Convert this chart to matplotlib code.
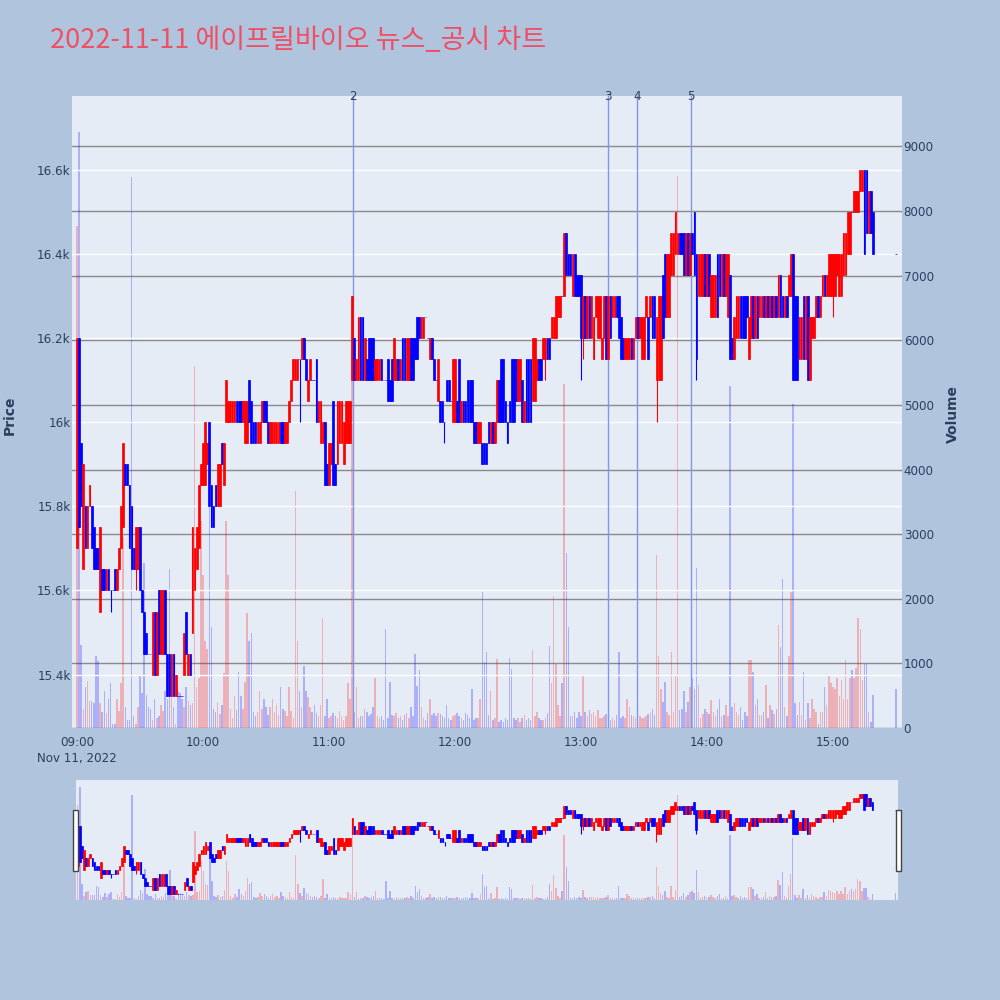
import numpy as np
import pandas as pd
import matplotlib
matplotlib.use("Agg")
import matplotlib.pyplot as plt
from matplotlib.patches import Rectangle

# 1분봉 (09:00 ~ 15:19, 15:30 종가)
times = list(pd.date_range("2022-11-11 09:00", "2022-11-11 15:19", freq="min")) + [pd.Timestamp("2022-11-11 15:30")]

opens = [
    15700, 16200, 15950, 15650, 15800, 15700, 15800, 15800, 15750, 15700,
    15700, 15550, 15650, 15650, 15600, 15650, 15600, 15600, 15650, 15600,
    15650, 15700, 15750, 15900, 15900, 15850, 15800, 15700, 15650, 15650,
    15750, 15600, 15550, 15500, 15450, 15450, 15400, 15550, 15400, 15600,
    15450, 15450, 15600, 15450, 15450, 15350, 15450, 15350, 15350, 15350,
    15350, 15400, 15550, 15400, 15450, 15500, 15600, 15650, 15700, 15850,
    15850, 15850, 15900, 16000, 15850, 15800, 15850, 15800, 15800, 15950,
    15850, 16000, 16000, 16000, 16000, 16000, 16050, 16050, 16050, 16000,
    15950, 15950, 16100, 16050, 16000, 16000, 15950, 15950, 16000, 16050,
    16050, 16000, 15950, 15950, 15950, 15950, 15950, 16000, 16000, 15950,
    15950, 16000, 16050, 16100, 16100, 16100, 16150, 16150, 16200, 16150,
    16050, 16100, 16100, 16100, 16150, 16000, 15950, 15950, 16000, 15900,
    15850, 15900, 16050, 15900, 15900, 15950, 15950, 15900, 15950, 15950,
    15950, 16100, 16200, 16100, 16100, 16250, 16250, 16100, 16150, 16200,
    16200, 16200, 16100, 16100, 16100, 16150, 16100, 16100, 16150, 16100,
    16150, 16100, 16100, 16150, 16100, 16200, 16200, 16100, 16100, 16200,
    16200, 16200, 16250, 16250, 16200, 16200, 16250, 16200, 16150, 16200,
    16150, 16100, 16050, 16050, 16050, 16000, 16100, 16100, 16050, 16000,
    16000, 16050, 16150, 16000, 16050, 16050, 16100, 16100, 16100, 16000,
    16000, 15950, 15950, 15950, 15950, 15950, 16000, 15950, 16000, 15950,
    16000, 16100, 16150, 16150, 16050, 16000, 16050, 16150, 16150, 16150,
    16050, 16050, 16100, 16000, 16150, 16150, 16150, 16050, 16050, 16100,
    16150, 16150, 16150, 16150, 16200, 16200, 16200, 16200, 16200, 16250,
    16250, 16300, 16300, 16450, 16400, 16400, 16300, 16400, 16350, 16350,
    16350, 16200, 16300, 16200, 16300, 16200, 16150, 16250, 16200, 16200,
    16150, 16200, 16300, 16150, 16300, 16250, 16250, 16300, 16300, 16250,
    16200, 16150, 16150, 16150, 16200, 16150, 16200, 16250, 16200, 16150,
    16150, 16250, 16250, 16250, 16300, 16300, 16100, 16100, 16100, 16350,
    16400, 16250, 16250, 16350, 16350, 16400, 16400, 16450, 16450, 16450,
    16350, 16450, 16350, 16450, 16500, 16400, 16300, 16300, 16300, 16400,
    16300, 16400, 16250, 16250, 16250, 16400, 16400, 16300, 16400, 16300,
    16250, 16350, 16200, 16150, 16200, 16200, 16300, 16300, 16300, 16300,
    16150, 16200, 16300, 16200, 16300, 16250, 16250, 16300, 16250, 16300,
    16250, 16300, 16250, 16300, 16250, 16350, 16300, 16250, 16300, 16300,
    16300, 16400, 16300, 16300, 16150, 16150, 16300, 16150, 16300, 16100,
    16200, 16200, 16250, 16300, 16250, 16300, 16350, 16300, 16300, 16300,
    16300, 16300, 16350, 16300, 16300, 16350, 16350, 16400, 16400, 16500,
    16500, 16500, 16500, 16550, 16550, 16600, 16600, 16450, 16550, 16500,
    16400,
]

closes = [
    16200, 15750, 15800, 15900, 15700, 15800, 15850, 15700, 15650, 15650,
    15650, 15750, 15600, 15600, 15650, 15600, 15600, 15600, 15600, 15650,
    15700, 15800, 15950, 15850, 15850, 15700, 15650, 15650, 15750, 15750,
    15600, 15550, 15450, 15450, 15450, 15450, 15550, 15400, 15550, 15450,
    15600, 15600, 15450, 15350, 15350, 15450, 15350, 15400, 15350, 15350,
    15350, 15500, 15450, 15450, 15400, 15750, 15700, 15750, 15850, 15900,
    15950, 16000, 15950, 15800, 15750, 15750, 15800, 15900, 15900, 15900,
    15950, 16100, 16050, 16050, 16050, 16050, 16000, 16000, 16000, 16050,
    16050, 16050, 16000, 15950, 15950, 15950, 16000, 16000, 16050, 16000,
    16000, 15950, 16000, 16000, 16000, 16000, 16000, 15950, 15950, 16000,
    16000, 16050, 16100, 16150, 16150, 16150, 16150, 16200, 16150, 16100,
    16100, 16150, 16100, 16100, 16000, 16050, 16050, 16000, 15850, 15850,
    15950, 15950, 15850, 15850, 16050, 16050, 16050, 16000, 16050, 16050,
    16050, 16300, 16100, 16150, 16250, 16100, 16100, 16200, 16100, 16100,
    16100, 16100, 16150, 16150, 16150, 16100, 16100, 16100, 16050, 16050,
    16050, 16200, 16150, 16100, 16150, 16100, 16100, 16200, 16200, 16100,
    16100, 16150, 16150, 16200, 16250, 16250, 16250, 16200, 16200, 16150,
    16100, 16100, 16150, 16000, 16000, 16000, 16050, 16050, 16050, 16150,
    16150, 16000, 16000, 16050, 16000, 16000, 16000, 16000, 16000, 15950,
    15950, 16000, 16000, 15900, 15900, 15900, 15950, 16000, 15950, 16000,
    16100, 16000, 16000, 16000, 16000, 15950, 16000, 16000, 16000, 16050,
    16150, 16150, 16000, 16050, 16000, 16000, 16000, 16200, 16200, 16150,
    16100, 16100, 16200, 16200, 16150, 16150, 16250, 16250, 16300, 16300,
    16300, 16300, 16450, 16350, 16350, 16350, 16400, 16300, 16300, 16300,
    16200, 16300, 16200, 16300, 16200, 16300, 16250, 16300, 16300, 16300,
    16200, 16300, 16150, 16300, 16200, 16300, 16300, 16250, 16200, 16150,
    16150, 16200, 16200, 16200, 16150, 16200, 16250, 16200, 16250, 16250,
    16250, 16300, 16150, 16300, 16200, 16200, 16250, 16300, 16300, 16200,
    16250, 16400, 16400, 16450, 16450, 16500, 16450, 16400, 16400, 16350,
    16450, 16350, 16450, 16400, 16350, 16150, 16400, 16400, 16400, 16300,
    16400, 16300, 16350, 16350, 16350, 16250, 16300, 16400, 16300, 16400,
    16400, 16150, 16150, 16250, 16300, 16300, 16200, 16200, 16200, 16250,
    16250, 16300, 16200, 16300, 16200, 16300, 16300, 16250, 16300, 16250,
    16300, 16250, 16300, 16250, 16350, 16250, 16250, 16300, 16250, 16350,
    16400, 16100, 16100, 16100, 16250, 16250, 16150, 16300, 16100, 16250,
    16250, 16250, 16300, 16250, 16300, 16350, 16300, 16350, 16400, 16400,
    16400, 16400, 16400, 16400, 16400, 16450, 16450, 16500, 16500, 16500,
    16550, 16550, 16550, 16600, 16600, 16400, 16450, 16550, 16450, 16400,
    16400,
]

# 몸통 밖으로 나온 아래꼬리 (인덱스: 저가)
low_wicks = {11: 15550, 16: 15550, 28: 15600, 106: 16000, 175: 15950, 223: 16100,
             240: 16100, 241: 16150, 276: 16000, 295: 16100, 360: 16250}

volumes = [
    7770, 9220, 1280, 290, 640, 735, 415, 415, 380, 1120,
    1040, 380, 250, 575, 225, 450, 690, 65, 65, 450,
    260, 690, 2950, 320, 130, 130, 8530, 190, 65, 320,
    800, 545, 2560, 510, 320, 290, 130, 450, 160, 190,
    350, 260, 575, 450, 2460, 510, 320, 65, 575, 545,
    450, 320, 640, 415, 350, 380, 5600, 640, 770, 3200,
    2370, 1340, 1215, 3500, 1570, 300, 250, 400, 220, 350,
    845, 3200, 2370, 300, 150, 500, 280, 865, 500, 300,
    705, 1780, 1340, 1470, 250, 180, 250, 575, 300, 450,
    320, 200, 320, 450, 250, 350, 200, 640, 300, 260,
    180, 640, 260, 160, 3660, 1340, 575, 320, 960, 575,
    480, 320, 250, 350, 225, 180, 350, 1700, 190, 450,
    150, 190, 225, 180, 160, 260, 190, 130, 190, 690,
    450, 5900, 250, 640, 160, 190, 190, 290, 250, 190,
    220, 320, 770, 190, 150, 190, 120, 1535, 160, 705,
    200, 190, 225, 150, 190, 130, 200, 225, 160, 320,
    180, 1140, 650, 895, 320, 150, 130, 225, 450, 200,
    225, 180, 225, 220, 190, 150, 350, 160, 130, 190,
    200, 225, 190, 160, 130, 225, 200, 160, 610, 130,
    160, 160, 450, 2110, 1020, 1180, 200, 575, 120, 150,
    1075, 100, 130, 100, 160, 120, 1090, 910, 150, 130,
    160, 100, 150, 200, 130, 160, 120, 1200, 190, 250,
    150, 130, 120, 160, 225, 1270, 700, 2035, 990, 350,
    190, 700, 5330, 2710, 1570, 190, 190, 250, 160, 250,
    180, 820, 250, 190, 280, 220, 250, 190, 280, 150,
    160, 190, 220, 400, 130, 160, 130, 200, 1180, 160,
    190, 150, 450, 320, 200, 190, 160, 130, 190, 160,
    150, 190, 220, 250, 290, 200, 2675, 1120, 600, 400,
    705, 250, 200, 1180, 250, 800, 8540, 280, 300, 575,
    250, 400, 640, 770, 600, 2475, 670, 160, 220, 300,
    250, 220, 430, 250, 190, 300, 450, 190, 200, 350,
    190, 5290, 320, 380, 250, 200, 320, 130, 250, 190,
    1055, 1055, 865, 350, 450, 200, 200, 250, 660, 160,
    350, 280, 220, 300, 1600, 1250, 2300, 320, 190, 1120,
    2110, 5020, 380, 200, 400, 200, 865, 130, 380, 160,
    450, 300, 250, 65, 250, 250, 640, 350, 800, 700,
    640, 600, 770, 500, 750, 450, 1055, 450, 770, 895,
    770, 930, 1700, 1535, 750, 990, 990, 250, 100, 510,
    610,
]

# 뉴스/공시 시점
event_times = ["2022-11-11 11:11:24", "2022-11-11 13:12:54", "2022-11-11 13:26:42", "2022-11-11 13:52:24"]
event_labels = ["2", "3", "4", "5"]

price_ticks = [15400, 15600, 15800, 16000, 16200, 16400, 16600]
price_labels = ["15.4k", "15.6k", "15.8k", "16k", "16.2k", "16.4k", "16.6k"]
volume_ticks = list(range(0, 10000, 1000))
hour_ticks = [0, 60, 120, 180, 240, 300, 360]
hour_labels = ["09:00\nNov 11, 2022", "10:00", "11:00", "12:00", "13:00", "14:00", "15:00"]

title = "2022-11-11 에이프릴바이오 뉴스_공시 차트"

PAPER = "#B0C4DE"
PLOT_BG = "#E5ECF6"
TXT = "#2a3f5f"

t0 = pd.Timestamp("2022-11-11 09:00")
x = np.array([(t - t0).total_seconds() / 60 for t in times])
o = np.array(opens, dtype=float)
c = np.array(closes, dtype=float)
hi = np.maximum(o, c)
lo = np.minimum(o, c)
for i, v in low_wicks.items():
    lo[i] = v
up = c > o
candle_col = np.where(up, "#FF0000", "#0000FF")
vol_col = [(1, 0, 0, 0.25) if u else (0, 0, 1, 0.25) for u in up]
ev_x = [(pd.Timestamp(t) - t0).total_seconds() / 60 for t in event_times]

PRICE_LIM = (15273, 16776)
VOL_LIM = (0, 9780)


def candles(ax):
    ax.vlines(x, lo, hi, colors=candle_col, lw=0.8, zorder=3)
    ax.bar(x, c - o, bottom=o, width=0.8, color=candle_col,
           edgecolor=candle_col, lw=0.5, zorder=3)


def no_frame(ax):
    for s in ax.spines.values():
        s.set_visible(False)
    ax.tick_params(length=0)


fig = plt.figure(figsize=(10, 10), dpi=100, facecolor=PAPER)

# 메인 차트: 거래량 (오른쪽 축)
main_rect = [0.072, 0.272, 0.830, 0.632]
axv = fig.add_axes(main_rect, facecolor=PLOT_BG)
axv.bar(x, volumes, width=0.7, color=vol_col, lw=0)
axv.set_ylim(*VOL_LIM)
axv.yaxis.tick_right()
axv.set_yticks(volume_ticks)
axv.set_yticklabels([str(v) for v in volume_ticks])
axv.grid(axis="y", color="#8a8a8a", lw=1)
axv.set_axisbelow(True)
axv.tick_params(axis="y", length=0, pad=1.2, labelsize=8.6, labelcolor=TXT)
axv.tick_params(axis="x", labelbottom=False, length=0)
no_frame(axv)

# 메인 차트: 가격 (왼쪽 축)
axp = fig.add_axes(main_rect, sharex=axv, facecolor="none")
candles(axp)
axp.set_ylim(*PRICE_LIM)
axp.set_yticks(price_ticks)
axp.set_yticklabels(price_labels)
axp.grid(axis="y", color="white", lw=1)
axp.set_axisbelow(True)
axp.set_xlim(-2.38, 392.86)
axp.set_xticks(hour_ticks)
axp.set_xticklabels(hour_labels, linespacing=1.25)
axp.tick_params(axis="y", length=0, pad=1, labelsize=8.6, labelcolor=TXT)
axp.tick_params(axis="x", length=0, pad=6, labelsize=8.6, labelcolor=TXT)
no_frame(axp)

for xe, lab in zip(ev_x, event_labels):
    axp.axvline(xe, color="#7f97e8", lw=1, zorder=2)
    axp.text(xe, 1.0, lab, transform=axp.get_xaxis_transform(), ha="center",
             va="center", fontsize=8.6, color=TXT)

# 레인지 슬라이더
slider_rect = [0.076, 0.100, 0.822, 0.120]
asv = fig.add_axes(slider_rect, facecolor=PLOT_BG)
asv.bar(x, volumes, width=0.7, color=vol_col, lw=0)
asv.set_ylim(*VOL_LIM)
asv.set_xticks([])
asv.set_yticks([])
no_frame(asv)

asp = fig.add_axes(slider_rect, sharex=asv, facecolor="none")
candles(asp)
asp.set_ylim(*PRICE_LIM)
asp.set_xlim(-0.8, 391.2)
asp.set_yticks([])
no_frame(asp)

for hx in (0.0733, 0.8963):
    fig.add_artist(Rectangle((hx, 0.129), 0.0044, 0.061, transform=fig.transFigure,
                             facecolor="white", edgecolor="#444444", lw=1))

fig.text(0.050, 0.959, title, fontsize=19.5, color="#EE5066", ha="left", va="center",
         family=["Noto Sans CJK KR", "DejaVu Sans"])
fig.text(0.010, 0.585, "Price", rotation=90, ha="center", va="center",
         fontsize=10, fontweight="bold", color=TXT)
fig.text(0.953, 0.586, "Volume", rotation=90, ha="center", va="center",
         fontsize=10, fontweight="bold", color=TXT)

fig.savefig("out.png", dpi=100, facecolor=PAPER)
